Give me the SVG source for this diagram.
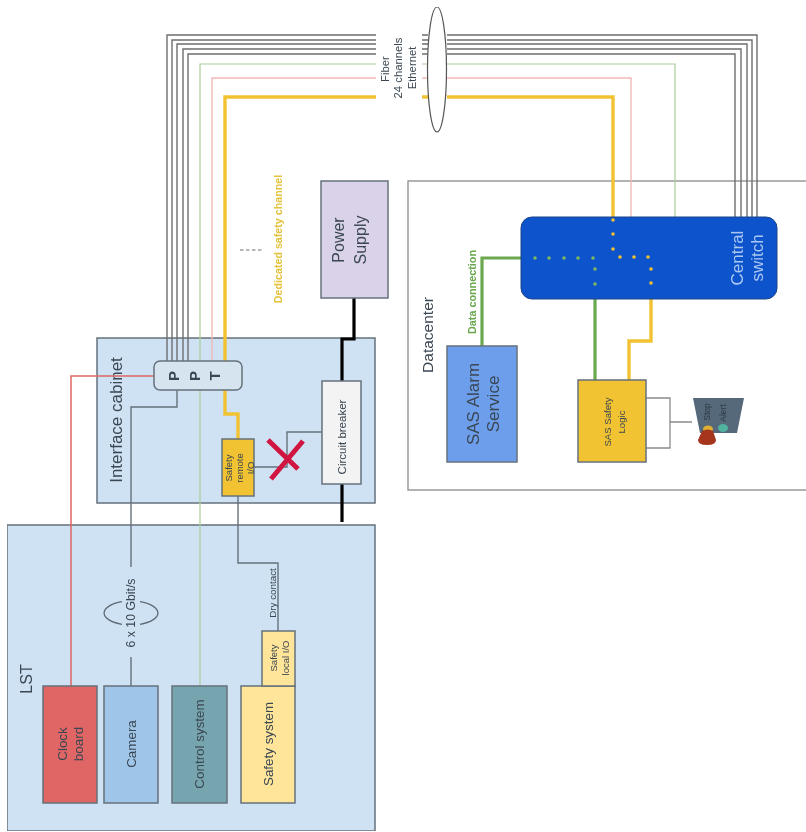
<svg xmlns="http://www.w3.org/2000/svg" width="806" height="832" viewBox="0 0 806 832">
<style>
text{font-family:"Liberation Sans",Arial,sans-serif;text-anchor:middle;dominant-baseline:central;fill:#3a4652}
.box{stroke:#66727c;stroke-width:1.5}
.c{fill:none;stroke-linejoin:miter}
.g{stroke:#6e6e6e;stroke-width:1.4}
.s{stroke:#66727c;stroke-width:1.4}
.gr{stroke:#a8cf9a;stroke-width:1.2}
.pk{stroke:#f2b8b8;stroke-width:1.4}
.y{stroke:#f1c232;stroke-width:3.4}
.dg{stroke:#6aa84f;stroke-width:3.2}
.k{stroke:#000;stroke-width:3.2}
.dy{fill:#f1c232}
.dd{fill:#7cb860}
</style>
<defs><filter id="soft" x="0" y="0" width="100%" height="100%"><feGaussianBlur stdDeviation="0.45"/></filter></defs>
<rect width="806" height="832" fill="#fff"/>
<g filter="url(#soft)">
<g id="datacenter"><rect x="408" y="181" width="400" height="309" fill="#fff" stroke="#8a8a8a" stroke-width="1.3"/><text transform="translate(427 335) rotate(-90)" font-size="15.5">Datacenter</text></g>
<g id="interface-cabinet"><rect class="box" x="97" y="338" width="278" height="165" fill="#cfe2f3"/><text transform="translate(116 420) rotate(-90)" font-size="17">Interface cabinet</text></g>
<g id="lst"><rect class="box" x="7" y="525" width="368" height="306" fill="#cfe2f3"/><text transform="translate(26 679) rotate(-90)" font-size="16">LST</text></g>

<g id="connectors">
<g class="c">
<path class="g" d="M376 35H167V361M422 35H428M447 35H757V217"/>
<path class="g" d="M376 40H172V361M422 40H428M447 40H752V217"/>
<path class="g" d="M376 44H177V361M422 44H428M447 44H747V217"/>
<path class="g" d="M376 49H183V361M422 49H428M447 49H741V217"/>
<path class="g" d="M376 54H188V361M422 54H428M447 54H735V217"/>
<path class="gr" d="M376 64H200V686M422 64H428M447 64H675V217"/>
<path class="pk" d="M376 78H212V361M422 78H428M447 78H631V217"/>
<path class="y" d="M376 97H225V361M422 97H428M447 97H613V217"/>
<path class="y" d="M225 390V414H238V439"/>
<path stroke="#e06666" stroke-width="1.5" d="M154 376H71V686"/>
<path class="s" d="M177 390V407H131V567M131 657V686"/>
<path class="s" d="M238 496V563H278V631"/>
<path class="s" d="M254 467H287V432H322"/>
<path class="k" d="M354 298V339H342V381M342 484V522"/>
<path class="dg" d="M482 346V258H521M595 299V380"/>
<path class="y" d="M651 297V341H629V380"/>
<path stroke="#8a8a8a" stroke-width="1.3" d="M646 398H670V448H646M670 422H692"/>
<path stroke="#5f6b75" stroke-width="1.3" d="M122 601.7A27 12 0 0 0 122 624.3M140 601.7A27 12 0 0 1 140 624.3"/>
<path stroke="#a0a0a0" stroke-width="1.4" stroke-dasharray="3.5 2.5" d="M240 250H263"/>
</g>
<text transform="translate(131 613) rotate(-90)" font-size="12.3">6 x 10 Gbit/s</text>
<text transform="translate(272 593) rotate(-90)" font-size="9.800">Dry contact</text>
<text transform="translate(278 239) rotate(-90)" font-size="10.700" font-weight="bold" style="fill:#e3c23e">Dedicated safety channel</text>
<text transform="translate(472 292) rotate(-90)" font-size="10.800" font-weight="bold" style="fill:#6aa84f">Data connection</text>
<text transform="translate(385 69) rotate(-90)" font-size="11.300">Fiber</text>
<text transform="translate(398 68) rotate(-90)" font-size="11.300">24 channels</text>
<text transform="translate(412 68) rotate(-90)" font-size="11.300">Ethernet</text>
</g>

<g id="fiber-bundle"><ellipse cx="437" cy="69.500" rx="9.500" ry="62.500" fill="#fff" stroke="#555" stroke-width="1.2"/></g>
<g id="ppt"><rect class="box" x="154" y="361" width="88" height="29" rx="6" fill="#d6e4f0"/><g font-size="15" font-weight="bold"><text transform="translate(173 376) rotate(-90)">P</text><text transform="translate(194 376) rotate(-90)">P</text><text transform="translate(214 376) rotate(-90)">T</text></g></g>
<g id="safety-remote-io"><rect class="box" x="222" y="439" width="32" height="57" fill="#f1c232"/><g font-size="9.500"><text transform="translate(228 468) rotate(-90)">Safety</text><text transform="translate(239 468) rotate(-90)">remote</text><text transform="translate(250 468) rotate(-90)">I/O</text></g></g>
<g id="circuit-breaker"><rect class="box" x="322" y="381" width="39" height="103" fill="#f3f3f3"/><text transform="translate(342 437) rotate(-90)" font-size="11.500">Circuit breaker</text></g>
<g id="power-supply"><rect class="box" x="321" y="181" width="67" height="117" fill="#d9d2e9"/><g font-size="16"><text transform="translate(338 240) rotate(-90)">Power</text><text transform="translate(360 240) rotate(-90)">Supply</text></g></g>
<g id="clock-board"><rect class="box" x="43" y="686" width="54" height="117" fill="#e06666"/><g font-size="13.400"><text transform="translate(62 744) rotate(-90)">Clock</text><text transform="translate(78 744) rotate(-90)">board</text></g></g>
<g id="camera"><rect class="box" x="104" y="686" width="54" height="117" fill="#9fc5e8"/><text transform="translate(131 744) rotate(-90)" font-size="13.400">Camera</text></g>
<g id="control-system"><rect class="box" x="172" y="686" width="55" height="117" fill="#76a5af"/><text transform="translate(199 744) rotate(-90)" font-size="13.400">Control system</text></g>
<g id="safety-system"><rect class="box" x="241" y="686" width="54" height="117" fill="#ffe599"/><text transform="translate(268 744) rotate(-90)" font-size="13.400">Safety system</text></g>
<g id="safety-local-io"><rect class="box" x="262" y="631" width="33" height="55" fill="#ffe599"/><g font-size="9.500"><text transform="translate(273 658) rotate(-90)">Safety</text><text transform="translate(285 658) rotate(-90)">local I/O</text></g></g>
<g id="sas-alarm-service"><rect class="box" x="447" y="346" width="70" height="116" fill="#6d9eeb"/><g font-size="17"><text transform="translate(473 404) rotate(-90)">SAS Alarm</text><text transform="translate(493 404) rotate(-90)">Service</text></g></g>
<g id="sas-safety-logic"><rect class="box" x="578" y="380" width="68" height="82" fill="#f1c232"/><g font-size="9.600"><text transform="translate(607 422) rotate(-90)">SAS Safety</text><text transform="translate(621 422) rotate(-90)">Logic</text></g></g>
<g id="central-switch"><rect x="521" y="217" width="256" height="82" rx="11" fill="#0f52cc" stroke="#1c4587" stroke-width="1"/>
<g class="dd"><circle cx="535" cy="258" r="1.800"/><circle cx="549" cy="258" r="1.800"/><circle cx="564" cy="258" r="1.800"/><circle cx="578" cy="258" r="1.800"/><circle cx="593" cy="258" r="1.800"/><circle cx="595" cy="269" r="1.800"/><circle cx="595" cy="284" r="1.800"/></g>
<g class="dy"><circle cx="613" cy="220" r="1.800"/><circle cx="613" cy="234" r="1.800"/><circle cx="613" cy="249" r="1.800"/><circle cx="620" cy="257" r="1.800"/><circle cx="634" cy="257" r="1.800"/><circle cx="648" cy="257" r="1.800"/><circle cx="651" cy="269" r="1.800"/><circle cx="651" cy="283" r="1.800"/></g>
<g font-size="17"><text transform="translate(737 258) rotate(-90)" style="fill:#a9c8f2">Central</text><text transform="translate(757 258) rotate(-90)" style="fill:#a9c8f2">switch</text></g></g>
<g id="stop-alert-panel"><path d="M693 398H744L737 433H700Z" fill="#55697a"/><g font-size="8.500"><text transform="translate(707 412) rotate(-90)" style="fill:#2c3a46">Stop</text><text transform="translate(723 413) rotate(-90)" style="fill:#2c3a46">Alert</text></g><ellipse cx="708" cy="429" rx="5" ry="3.500" fill="#e0b030"/><ellipse cx="723" cy="428" rx="5" ry="4" fill="#4fb3a0"/><path d="M702 431Q708 428 713 431L716 440Q716 445 707 445Q698 445 698 440Z" fill="#a5341c"/></g>
<g id="fault-mark"><path d="M268 440L298 469M303 441L271 479" stroke="#d0173f" stroke-width="5" fill="none"/></g>
</g>
</svg>
